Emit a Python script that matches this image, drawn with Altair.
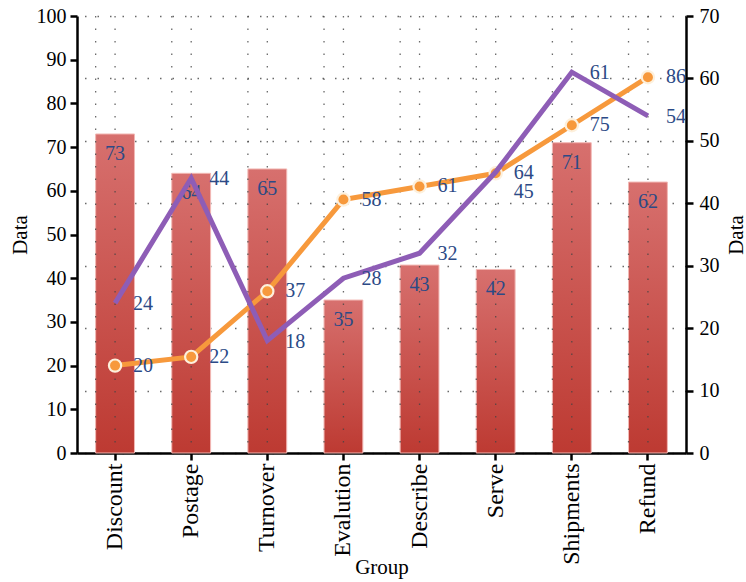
import altair as alt
import pandas as pd

groups = ["Discount", "Postage", "Turnover", "Evalution", "Describe", "Serve", "Shipments", "Refund"]
bar_values = [73, 64, 65, 35, 43, 42, 71, 62]
orange_values = [20, 22, 37, 58, 61, 64, 75, 86]
purple_values = [24, 44, 18, 28, 32, 45, 61, 54]
left_ticks = [0, 10, 20, 30, 40, 50, 60, 70, 80, 90, 100]
right_ticks = [0, 10, 20, 30, 40, 50, 60, 70]

df = pd.DataFrame({
    "Group": groups,
    "Bar": bar_values,
    "Orange": orange_values,
    "Purple": purple_values,
})

FONT = "Liberation Serif"
LABEL_COLOR = "#2c4a86"
ORANGE = "#f7993c"
PURPLE = "#8e5db6"

xscale = alt.Scale(paddingInner=0.49, paddingOuter=0.245)
xenc = alt.X(
    "Group:N", sort=groups, scale=xscale, title="Group",
    axis=alt.Axis(labelAngle=270, labelFontSize=24, labelPadding=3, titlePadding=-8,
                  grid=False, tickSize=7),
)

ly = alt.Scale(domain=[0, 100], nice=False)
ry = alt.Scale(domain=[0, 70], nice=False)

base = alt.Chart(df)

gradient = alt.Gradient(
    gradient="linear",
    stops=[alt.GradientStop(color="#d7706e", offset=0),
           alt.GradientStop(color="#bd3a32", offset=1)],
    x1=0, x2=0, y1=0, y2=1,
)

bars = base.mark_bar(fill=gradient, stroke="#f2b8b4", strokeWidth=1).encode(
    x=xenc,
    y=alt.Y("Bar:Q", scale=ly, title="Data",
            axis=alt.Axis(values=left_ticks, grid=False, orient="left", titleAngle=270,
                          titlePadding=6, labelPadding=4)),
)

vgrid_edges = base.mark_rule(color="#444444", strokeDash=[1.5, 11], strokeWidth=1.3, opacity=0.8).encode(
    x=alt.X("Group:N", sort=groups, scale=xscale, bandPosition=0),
)
vgrid_centers = base.mark_rule(color="#444444", strokeDash=[1.5, 11], strokeWidth=1.3, opacity=0.8).encode(
    x=alt.X("Group:N", sort=groups, scale=xscale, bandPosition=0.5),
)

bar_text = base.mark_text(font=FONT, fontSize=20, color=LABEL_COLOR, baseline="middle", dy=20).encode(
    x=alt.X("Group:N", sort=groups, scale=xscale),
    y=alt.Y("Bar:Q", scale=ly, title="Data"),
    text="Bar:Q",
)

orange_line = base.mark_line(color=ORANGE, strokeWidth=5).encode(
    x=alt.X("Group:N", sort=groups, scale=xscale),
    y=alt.Y("Orange:Q", scale=ly, title="Data"),
)
orange_pts = base.mark_point(filled=True, fill=ORANGE, stroke="#fdf0dc", strokeWidth=2.2,
                             size=150, opacity=1, shape="circle").encode(
    x=alt.X("Group:N", sort=groups, scale=xscale),
    y=alt.Y("Orange:Q", scale=ly, title="Data"),
)
orange_text = base.mark_text(font=FONT, fontSize=20, color=LABEL_COLOR, align="left",
                             baseline="middle", dx=18, dy=0).encode(
    x=alt.X("Group:N", sort=groups, scale=xscale),
    y=alt.Y("Orange:Q", scale=ly, title="Data"),
    text="Orange:Q",
)

left_layer = alt.layer(bars, vgrid_edges, vgrid_centers, orange_line, orange_pts, bar_text, orange_text)

purple_line = base.mark_line(color=PURPLE, strokeWidth=5).encode(
    x=alt.X("Group:N", sort=groups, scale=xscale),
    y=alt.Y("Purple:Q", scale=ry, title="Data",
            axis=alt.Axis(values=right_ticks, orient="right", titleAngle=270, grid=True,
                          gridDash=[1.5, 11], gridColor="#444444", gridWidth=1.3,
                          gridOpacity=0.8, titlePadding=27, labelPadding=6)),
)
purple_text = base.mark_text(font=FONT, fontSize=20, color=LABEL_COLOR, align="left",
                             baseline="middle", dx=18, dy=1).encode(
    x=alt.X("Group:N", sort=groups, scale=xscale),
    y=alt.Y("Purple:Q", scale=ry, title="Data"),
    text="Purple:Q",
).transform_filter(alt.datum.Group != "Serve")
purple_text_serve = base.mark_text(font=FONT, fontSize=20, color=LABEL_COLOR, align="left",
                                   baseline="middle", dx=18, dy=20).encode(
    x=alt.X("Group:N", sort=groups, scale=xscale),
    y=alt.Y("Purple:Q", scale=ry, title="Data"),
    text="Purple:Q",
).transform_filter(alt.datum.Group == "Serve")

right_layer = alt.layer(purple_line, purple_text, purple_text_serve)

chart = alt.layer(left_layer, right_layer).resolve_scale(y="independent").properties(
    width=609, height=437,
    autosize=alt.AutoSizeParams(type="none"),
    padding={"left": 77, "top": 16, "right": 60, "bottom": 129},
    background="white",
).configure_view(stroke=None).configure_axis(
    labelFont=FONT, titleFont=FONT, labelFontSize=20, titleFontSize=21,
    labelColor="black", titleColor="black", titleFontWeight="normal",
    domainColor="black", domainWidth=2.5, tickColor="black", tickWidth=2.5, tickSize=7,
)

chart.save("out.html", embed_options={"renderer": "svg", "actions": False})
